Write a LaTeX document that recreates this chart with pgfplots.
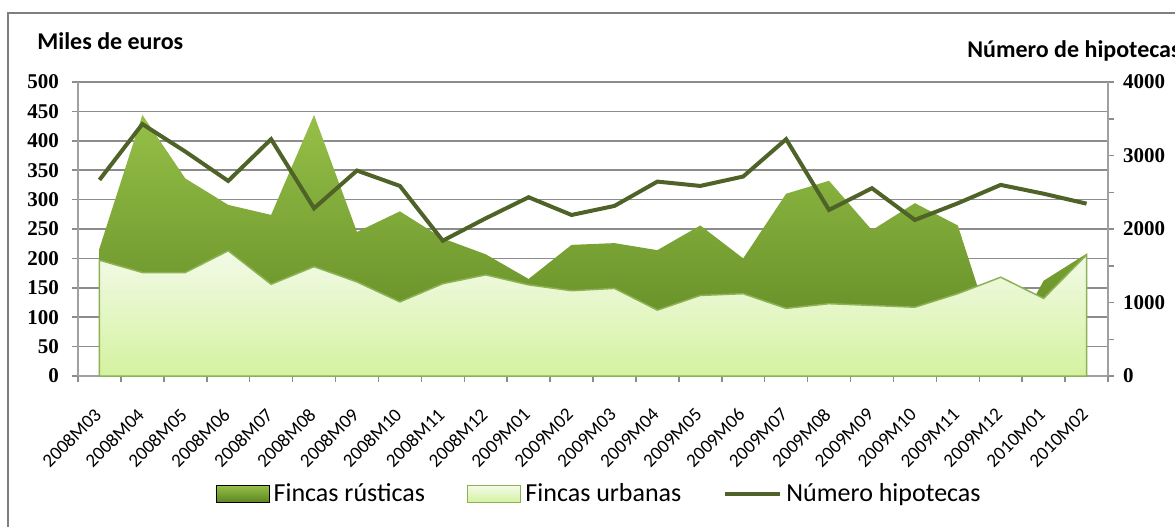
\documentclass[border=0pt]{standalone}
\usepackage{fontspec}
\setmainfont{Carlito}
\newfontfamily\calibri{Carlito}
\newfontfamily\tickfont{Liberation Serif}
\usepackage{pgfplots}
\usepackage{pgfplotstable}
\pgfplotsset{compat=1.18}

\definecolor{darkA}{HTML}{96C048}
\definecolor{darkB}{HTML}{5B8520}
\definecolor{lightA}{HTML}{F3FAE8}
\definecolor{lightB}{HTML}{D4F2A0}
\definecolor{lightEdge}{HTML}{8DB255}
\definecolor{lineC}{HTML}{4F6228}
\definecolor{gridC}{HTML}{8C8C8C}
\definecolor{axisC}{HTML}{A0A0A0}
\definecolor{frameC}{HTML}{7F7F7F}

\pgfplotstableread{
i rus urb hip
0 217 197 2668
1 444 176 3427
2 336 176 3054
3 291 213 2654
4 274 156 3222
5 444 186 2282
6 245 160 2795
7 280 126 2586
8 234 157 1841
9 207 172 2145
10 165 155 2432
11 223 145 2191
12 226 149 2314
13 214 112 2645
14 256 137 2586
15 200 140 2714
16 310 115 3222
17 332 123 2259
18 248 120 2555
19 294 117 2123
20 256 140 2350
21 30 168 2600
22 162 132 2480
23 208 206 2345
}\datatable

\begin{document}
\begin{tikzpicture}
\useasboundingbox (0,0) rectangle (587.5pt,263pt);
\clip (0,0) rectangle (587.5pt,263pt);
\fill[white] (0,0) rectangle (587.5pt,263pt);
\draw[frameC, line width=1pt] (4pt,256.5pt) rectangle (600pt,-10pt);

\node[anchor=base west, inner sep=0pt, font=\bfseries\fontsize{12}{14}\selectfont] at (18.5pt,238pt) {Miles de euros};
\node[anchor=base west, inner sep=0pt, font=\bfseries\fontsize{12}{14}\selectfont] at (483.5pt,234pt) {Número de hipotecas};

\begin{axis}[
  at={(39pt,75pt)}, anchor=south west, scale only axis,
  width=515pt, height=147pt,
  xmin=-0.5, xmax=23.5, ymin=0, ymax=500,
  axis y line*=left, axis x line*=bottom,
  axis line style={axisC, line width=1pt},
  ytick={0,50,...,500},
  ymajorgrids, grid style={gridC, line width=0.75pt},
  tick align=outside, major tick length=3pt, minor tick length=3pt,
  xtick={0,...,23},
  xticklabels={\mbox{2008M03},\mbox{2008M04},\mbox{2008M05},\mbox{2008M06},\mbox{2008M07},\mbox{2008M08},\mbox{2008M09},\mbox{2008M10},\mbox{2008M11},\mbox{2008M12},\mbox{2009M01},\mbox{2009M02},\mbox{2009M03},\mbox{2009M04},\mbox{2009M05},\mbox{2009M06},\mbox{2009M07},\mbox{2009M08},\mbox{2009M09},\mbox{2009M10},\mbox{2009M11},\mbox{2009M12},\mbox{2010M01},\mbox{2010M02}},
  minor xtick={-0.5,0.5,...,23.5},
  major x tick style={draw=none},
  minor x tick style={draw=gridC, line width=0.75pt},
  y tick style={draw=gridC, line width=0.75pt},
  xticklabel style={yshift=-14pt, rotate=45, anchor=east, font=\calibri\fontsize{9.5}{11}\selectfont, inner sep=1pt},
  yticklabel style={font=\tickfont\bfseries\fontsize{10.5}{12}\selectfont, xshift=-3pt},
  /pgf/number format/assume math mode=true,
  clip=false,
]
\addplot[draw=none, top color=darkA, bottom color=darkB] table[x=i,y=rus]{\datatable} \closedcycle;
\addplot[draw=lightEdge, line width=0.75pt, top color=lightA, bottom color=lightB] table[x=i,y=urb]{\datatable} \closedcycle;
\end{axis}

\begin{axis}[
  at={(39pt,75pt)}, anchor=south west, scale only axis,
  width=515pt, height=147pt,
  xmin=-0.5, xmax=23.5, ymin=0, ymax=4000,
  axis y line*=right, axis x line=none,
  axis line style={axisC, line width=1pt},
  ytick={0,1000,...,4000},
  minor ytick={500,1500,2500,3500},
  tick align=outside, major tick length=3pt, minor tick length=3pt,
  y tick style={draw=gridC, line width=0.75pt},
  yticklabel style={font=\tickfont\bfseries\fontsize{10.5}{12}\selectfont, xshift=1pt},
  /pgf/number format/assume math mode=true,
  /pgf/number format/1000 sep={},
  legend style={at={(0.507,-0.401)}, anchor=center, draw=none, fill=none,
    legend columns=3, font=\calibri\fontsize{13}{15}\selectfont,
    /tikz/every even column/.append style={column sep=19pt}},
  legend cell align=left,
]
\addlegendimage{legend image code/.code={\fill[top color=darkA, bottom color=darkB] (0pt,-4.25pt) rectangle (26.5pt,4.25pt);}}
\addlegendentry{Fincas rústicas}
\addlegendimage{legend image code/.code={\draw[lightEdge, line width=0.75pt, top color=lightA, bottom color=lightB] (0pt,-4.25pt) rectangle (26.5pt,4.25pt);}}
\addlegendentry{Fincas urbanas}
\addplot[lineC, line width=2pt, legend image code/.code={\draw[lineC, line width=2pt] (0pt,0pt) -- (27.5pt,0pt);}] table[x=i,y=hip]{\datatable};
\addlegendentry{Número hipotecas}
\end{axis}
\end{tikzpicture}
\end{document}
